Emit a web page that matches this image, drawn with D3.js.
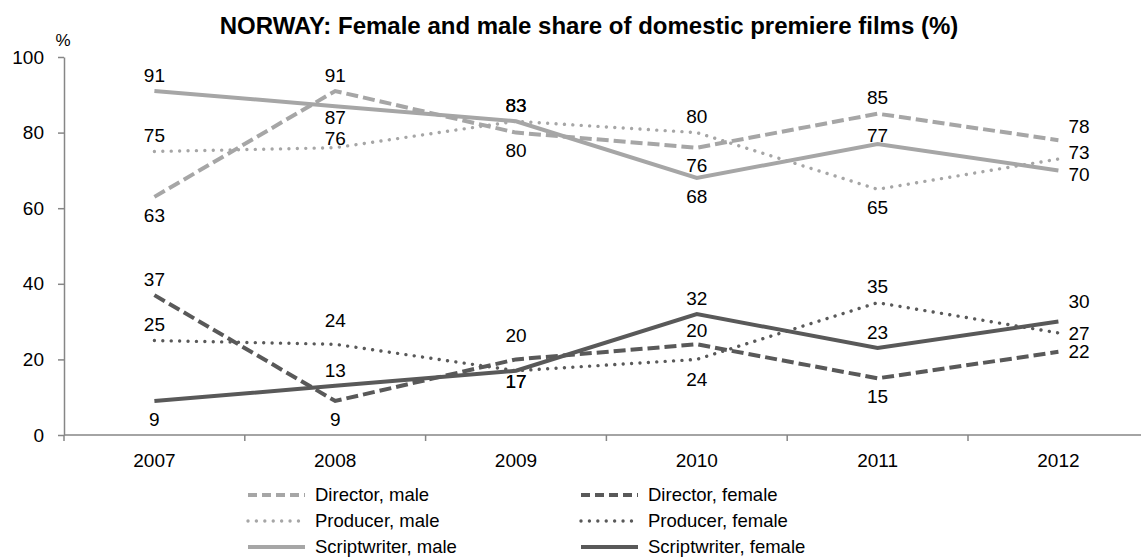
<!DOCTYPE html>
<meta charset="utf-8">
<style>
body { margin: 0; background: #fff; }
svg { font-family: "Liberation Sans", Arial, sans-serif; }
.title { font-size: 24px; font-weight: bold; fill: #000; }
.axis path, .axis line { stroke: #868686; stroke-width: 1.5px; }
.axis text { font-size: 19px; fill: #000; font-family: "Liberation Sans", Arial, sans-serif; }
.lbl { font-size: 19px; fill: #000; }
.legend text { font-size: 18.5px; fill: #000; }
.line { fill: none; }
</style>
<svg width="1141" height="558"></svg>
<script src="https://d3js.org/d3.v7.min.js"></script>
<script>

var years = ["2007", "2008", "2009", "2010", "2011", "2012"];
var yTicks = [0, 20, 40, 60, 80, 100];

var directorMale     = [63, 91, 80, 76, 85, 78];
var directorFemale   = [37, 9, 20, 24, 15, 22];
var producerMale     = [75, 76, 83, 80, 65, 73];
var producerFemale   = [25, 24, 17, 20, 35, 27];
var scriptMale       = [91, 87, 83, 68, 77, 70];
var scriptFemale     = [9, 13, 17, 32, 23, 30];

// where each value label sits (see labelOffset below)
var directorMalePos   = ["b", "a", "b", "b", "a", "ra"];
var directorFemalePos = ["a", "b", "a2", "b3", "b", "r"];
var producerMalePos   = ["a", "as", "a", "a", "b", "ru"];
var producerFemalePos = ["a", "a2", "bs", "a3", "a", "r"];
var scriptMalePos     = ["a", "bs", "a", "b", "as", "rd"];
var scriptFemalePos   = ["b", "a", "bs", "a", "a", "ra2"];

var labelOffset = {a: -16, a2: -24, a3: -29, as: -9, b: 18, b3: 35, bs: 11,
                   r: 0, ru: -7, rd: 4, ra: -14, ra2: -20};

var light = "#a6a6a6", dark = "#595959";
var dashed = {dash: "12,5", legendDash: "9,5", width: 4, cap: "butt"},
    dotted = {dash: "0.01,8.4", legendDash: "0.01,8.4", width: 3.4, cap: "round"},
    solid  = {dash: null, legendDash: null, width: 4, cap: "butt"};

var series = [
  {name: "Director, male", values: directorMale, pos: directorMalePos, color: light, style: dashed},
  {name: "Director, female", values: directorFemale, pos: directorFemalePos, color: dark, style: dashed},
  {name: "Producer, male", values: producerMale, pos: producerMalePos, color: light, style: dotted},
  {name: "Producer, female", values: producerFemale, pos: producerFemalePos, color: dark, style: dotted},
  {name: "Scriptwriter, male", values: scriptMale, pos: scriptMalePos, color: light, style: solid},
  {name: "Scriptwriter, female", values: scriptFemale, pos: scriptFemalePos, color: dark, style: solid}
];

var svg = d3.select("svg");
var left = 64, bandW = 180.8;

var x = d3.scaleBand().domain(years).range([left, left + bandW * years.length]).padding(0),
    y = d3.scaleLinear().domain([0, 100]).range([435, 57]);

svg.append("text")
    .attr("class", "title")
    .attr("x", 589)
    .attr("y", 34)
    .attr("text-anchor", "middle")
    .text("NORWAY: Female and male share of domestic premiere films (%)");

svg.append("text")
    .attr("x", 63)
    .attr("y", 46)
    .attr("text-anchor", "middle")
    .style("font-size", "17px")
    .text("%");

// y axis
svg.append("g")
    .attr("class", "axis")
    .attr("transform", "translate(" + left + ",0)")
    .call(d3.axisLeft(y).tickValues(yTicks).tickSize(6).tickPadding(14).tickSizeOuter(0));

// x axis with ticks between categories
var xg = svg.append("g")
    .attr("class", "axis")
    .attr("transform", "translate(0," + y(0) + ")");
xg.append("line")
    .attr("x1", left).attr("x2", x.range()[1]);
xg.selectAll(".tk")
    .data(years.concat(["end"]))
  .enter().append("line")
    .attr("x1", function(d, i) { return left + i * bandW; })
    .attr("x2", function(d, i) { return left + i * bandW; })
    .attr("y1", 0).attr("y2", 6);
xg.selectAll(".yl")
    .data(years)
  .enter().append("text")
    .attr("x", function(d) { return x(d) + x.bandwidth() / 2; })
    .attr("y", 32)
    .attr("text-anchor", "middle")
    .text(function(d) { return d; });

var line = d3.line()
    .x(function(d, i) { return x(years[i]) + x.bandwidth() / 2; })
    .y(function(d) { return y(d); });

series.forEach(function(s) {
  svg.append("path")
      .datum(s.values)
      .attr("class", "line")
      .attr("d", line)
      .attr("stroke", s.color)
      .attr("stroke-width", s.style.width)
      .attr("stroke-linecap", s.style.cap)
      .attr("stroke-dasharray", s.style.dash);
});

series.forEach(function(s) {
  svg.selectAll(null)
      .data(s.values)
    .enter().append("text")
      .attr("class", "lbl")
      .attr("x", function(d, i) {
        var cx = x(years[i]) + x.bandwidth() / 2;
        return s.pos[i][0] === "r" ? cx + 10 : cx;
      })
      .attr("y", function(d, i) { return y(d) + labelOffset[s.pos[i]]; })
      .attr("dy", "0.35em")
      .attr("text-anchor", function(d, i) { return s.pos[i][0] === "r" ? "start" : "middle"; })
      .text(function(d) { return d; });
});

// legend, two columns
var legend = svg.append("g").attr("class", "legend");
var colX = [248, 581], rowY = [495, 521, 547];
series.forEach(function(s, i) {
  var lx = colX[i % 2], ly = rowY[Math.floor(i / 2)];
  legend.append("line")
      .attr("x1", lx).attr("x2", lx + 57)
      .attr("y1", ly).attr("y2", ly)
      .attr("stroke", s.color)
      .attr("stroke-width", s.style.width)
      .attr("stroke-linecap", s.style.cap)
      .attr("stroke-dasharray", s.style.legendDash);
  legend.append("text")
      .attr("x", lx + 67)
      .attr("y", ly)
      .attr("dy", "0.35em")
      .text(s.name);
});

</script>
